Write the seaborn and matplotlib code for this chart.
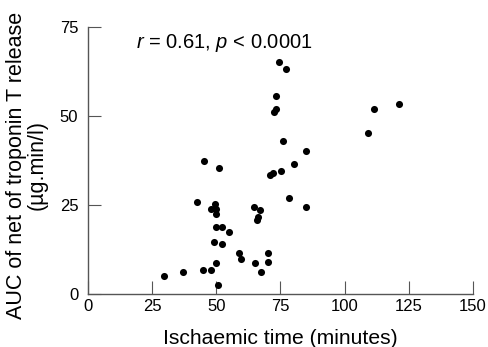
import matplotlib
matplotlib.use('Agg')
import matplotlib.pyplot as plt
import seaborn as sns
import pandas as pd

# Ischaemic time (minutes) vs AUC of net troponin T release
ischaemic_time = [29.7, 36.9, 42.6, 44.7, 45.3, 47.8, 47.9, 49.0, 49.5, 49.9,
                  49.9, 49.9, 50.0, 50.8, 50.9, 52.1, 52.2, 54.9, 58.9, 59.7,
                  64.8, 65.2, 65.7, 66.1, 67.0, 67.3, 70.0, 70.2, 70.8, 72.2,
                  72.6, 73.2, 73.2, 74.4, 75.1, 76.1, 77.3, 78.2, 80.1, 84.9,
                  85.0, 109.3, 111.4, 121.4]
auc_tnt = [4.9, 6.2, 25.8, 6.6, 37.2, 23.9, 6.6, 14.5, 25.3, 23.9,
           22.5, 8.5, 18.8, 2.3, 35.3, 13.8, 18.6, 17.4, 11.3, 9.8,
           24.4, 8.7, 20.6, 21.6, 23.5, 6.0, 11.4, 8.8, 33.2, 34.0,
           50.9, 51.8, 55.6, 65.2, 34.5, 43.0, 63.1, 26.9, 36.4, 40.2,
           24.4, 45.1, 51.8, 53.4]
x_ticks = [0, 25, 50, 75, 100, 125, 150]
y_ticks = [0, 25, 50, 75]

df = pd.DataFrame({'time': ischaemic_time, 'auc': auc_tnt})

sns.set_style('ticks')
plt.rcParams['font.family'] = ['Liberation Sans', 'DejaVu Sans']
plt.rcParams['mathtext.fontset'] = 'custom'
plt.rcParams['mathtext.rm'] = 'Liberation Sans'
plt.rcParams['mathtext.it'] = 'Liberation Sans:italic'
plt.rcParams['text.color'] = 'black'
plt.rcParams['axes.labelcolor'] = 'black'

fig = plt.figure(figsize=(4.89, 3.47), dpi=100)
ax = fig.add_axes([0.180, 0.154, 0.787, 0.769])

sns.scatterplot(data=df, x='time', y='auc', ax=ax, color='black', s=26,
                linewidth=0, clip_on=False)

ax.set_xlim(0, 150)
ax.set_ylim(0, 75)
ax.set_xticks(x_ticks)
ax.set_yticks(y_ticks)
sns.despine(ax=ax)
for side in ['left', 'bottom']:
    ax.spines[side].set_color('#555555')
    ax.spines[side].set_linewidth(1.0)
ax.tick_params(axis='both', direction='in', length=9.5, width=0.8,
               color='#555555', labelcolor='black', labelsize=12)
ax.tick_params(axis='x', pad=4)
ax.tick_params(axis='y', pad=7)

ax.set_xlabel('Ischaemic time (minutes)', fontsize=15.2, labelpad=11)
ax.set_ylabel('AUC of net of troponin T release\n(µg.min/l)', fontsize=15.5,
              linespacing=0.95)
ax.yaxis.set_label_coords(-0.105, 0.48)

ax.text(18.7, 68.9, r'$\mathit{r}$ = 0.61, $\mathit{p}$ < 0.0001',
        fontsize=14.5, va='baseline', ha='left')

fig.savefig('out.png', dpi=100)
